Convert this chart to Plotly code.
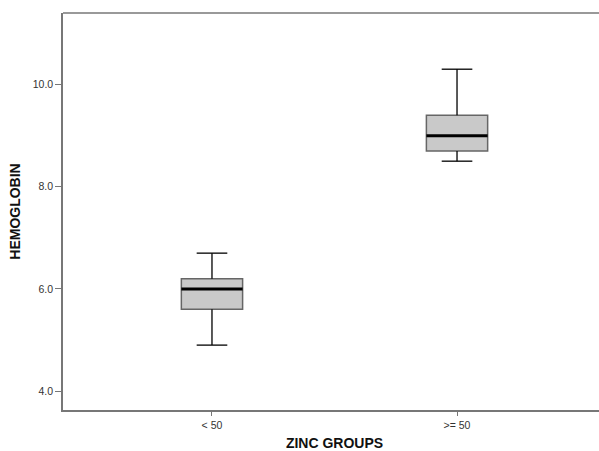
import plotly.graph_objects as go

categories = ["< 50", ">= 50"]
lower_whisker = [4.9, 8.5]
q1 = [5.6, 8.7]
median = [6.0, 9.0]
q3 = [6.2, 9.4]
upper_whisker = [6.7, 10.3]
y_tickvals = [4.0, 6.0, 8.0, 10.0]
y_ticktext = ["4.0", "6.0", "8.0", "10.0"]

box_w = 0.25
cap_w = box_w * 0.5
xpos = list(range(len(categories)))

fig = go.Figure()
for xi, lo, a, b, hi in zip(xpos, lower_whisker, q1, q3, upper_whisker):
    fig.add_trace(go.Scatter(
        x=[xi, xi, None, xi, xi, None,
           xi - cap_w / 2, xi + cap_w / 2, None, xi - cap_w / 2, xi + cap_w / 2],
        y=[lo, a, None, b, hi, None, lo, lo, None, hi, hi],
        mode="lines", line=dict(color="black", width=1.3),
        showlegend=False, hoverinfo="skip",
    ))
fig.add_trace(go.Box(
    x=xpos, q1=q1, median=median, q3=q3,
    lowerfence=q1, upperfence=q3,
    width=box_w, whiskerwidth=0,
    fillcolor="#c9c9c9",
    line=dict(color="#666666", width=1.5),
    boxpoints=False, showlegend=False, hoverinfo="skip",
))
for xi, m in zip(xpos, median):
    fig.add_trace(go.Scatter(
        x=[xi - box_w / 2, xi + box_w / 2], y=[m, m], mode="lines",
        line=dict(color="black", width=3), showlegend=False, hoverinfo="skip",
    ))

# top frame line of the plot area
fig.add_shape(type="line", xref="paper", yref="paper", x0=0, x1=1, y0=1, y1=1,
              line=dict(color="#777777", width=1.5), layer="above")

font = "Liberation Sans, Arial, sans-serif"
fig.update_layout(
    width=606, height=451,
    margin=dict(l=63, r=0, t=13, b=41),
    paper_bgcolor="white", plot_bgcolor="white",
    font=dict(family=font, color="#333333", size=10.5),
    xaxis=dict(
        range=[-0.608, 1.608], tickvals=xpos, ticktext=categories,
        showline=True, linecolor="#777777", linewidth=1.5, mirror=False,
        ticks="outside", ticklen=4, tickcolor="#777777", showgrid=False,
        zeroline=False, tickfont=dict(size=10.5, color="#333333"),
        ticklabelstandoff=1, automargin=False,
        title=dict(text="<b>ZINC GROUPS</b>", font=dict(size=14, color="#111111"), standoff=14),
    ),
    yaxis=dict(
        range=[3.63, 11.4], tickvals=y_tickvals, ticktext=y_ticktext,
        showline=True, linecolor="#777777", linewidth=1.5,
        ticks="outside", ticklen=6, tickcolor="#777777", showgrid=False,
        zeroline=False, tickfont=dict(size=10.5, color="#333333"),
        automargin=False,
        title=dict(text="<b>HEMOGLOBIN</b>", font=dict(size=14, color="#111111"), standoff=9),
    ),
)
fig.write_html("out.html", config={"displayModeBar": False},
               post_script="document.body.style.margin='0';document.body.style.overflow='hidden';")
